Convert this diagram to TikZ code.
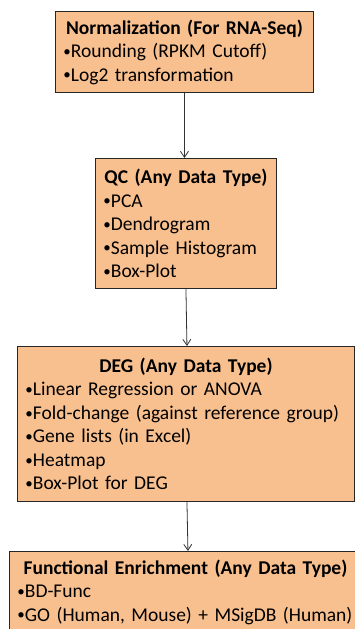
\documentclass[tikz,border=0pt]{standalone}
\usepackage{fontspec}
\setmainfont{Carlito}
\usepackage{tikz}
\usetikzlibrary{arrows.meta,positioning}
\definecolor{peach}{HTML}{F9C08F}
\newcommand{\inners}{8pt}
\newcommand{\boxfont}{\fontsize{19.5}{23.5}\selectfont}
\newcommand{\bul}{\raisebox{1.2pt}{\fontsize{15}{15}\selectfont•}}

\begin{document}
\begin{tikzpicture}[x=1pt,y=1pt,
    stagebox/.style={draw=black!85, fill=peach, line width=0.9pt, anchor=north west,
        inner xsep=\inners, inner ysep=0pt, align=left, font=\boxfont},
    flow/.style={draw=black!80, line width=0.8pt, -{Straight Barb[length=6pt,width=8pt]}}]
    \useasboundingbox (0,0) rectangle (355,-629);
    \clip (0,0) rectangle (355,-629);
    \node[stagebox, minimum width=258pt, minimum height=81pt, text width=242pt] (norm) at (55,-11)
        {\centering\textbf{Normalization (For RNA-Seq)}\par\raggedright
         \bul Rounding (RPKM Cutoff)\par
         \bul Log2 transformation};
    \node[stagebox, minimum width=179pt, minimum height=130pt, text width=165pt] (qc) at (95,-158)
        {\centering\textbf{QC (Any Data Type)}\par\raggedright
         \bul PCA\par
         \bul Dendrogram\par
         \bul Sample Histogram\par
         \bul Box-Plot};
    \node[stagebox, minimum width=337pt, minimum height=155pt, text width=321pt] (deg) at (17,-346)
        {\centering\textbf{DEG (Any Data Type)}\par\raggedright
         \bul Linear Regression or ANOVA\par
         \bul Fold-change (against reference group)\par
         \bul Gene lists (in Excel)\par
         \bul Heatmap\par
         \bul Box-Plot for DEG};
    \node[stagebox, minimum width=352pt, minimum height=81pt, text width=336pt] (enrich) at (9,-551)
        {\centering\textbf{Functional Enrichment (Any Data Type)}\par\raggedright
         \bul BD-Func\par
         \bul GO (Human, Mouse) + MSigDB (Human)};
    \draw[flow] (norm.south) -- (norm.south |- qc.north);
    \draw[flow] (qc.south) -- ([xshift=1pt]qc.south |- deg.north);
    \draw[flow] ([xshift=1pt]qc.south |- deg.south) -- ([xshift=2pt]qc.south |- enrich.north);
\end{tikzpicture}
\end{document}
